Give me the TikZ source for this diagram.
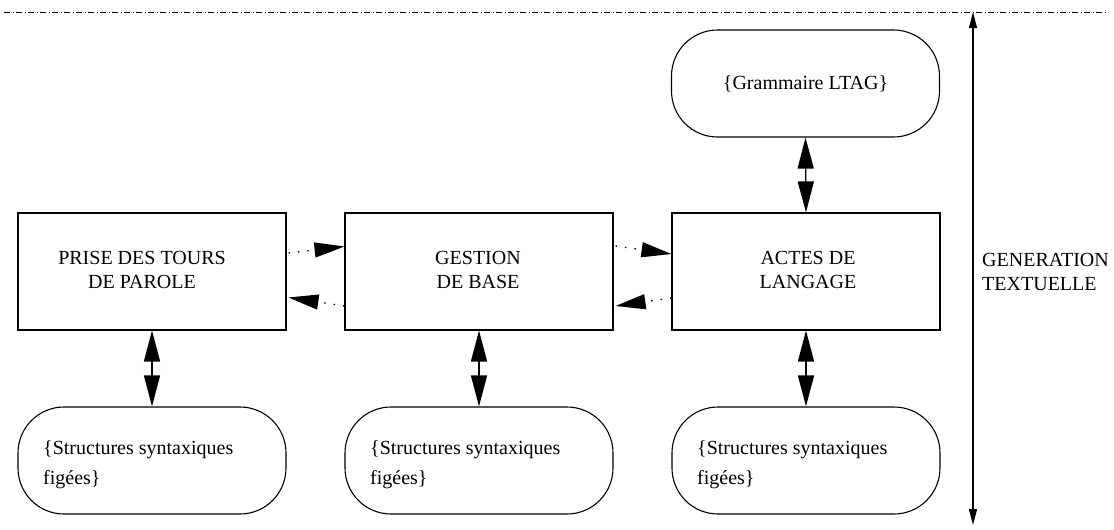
\documentclass[tikz,border=0pt]{standalone}
\usepackage{fontspec}
\setmainfont{Liberation Serif}
\newfontfamily\timesfont{Liberation Serif}
\usetikzlibrary{arrows.meta}
\begin{document}
\begin{tikzpicture}[x=1pt,y=-1pt,
  every node/.style={font=\timesfont\fontsize{20}{24}\selectfont},
  boxnode/.style={draw,line width=1.1pt,minimum width=268pt,minimum height=117pt,inner sep=0pt},
  roundnode/.style={draw,line width=1.1pt,rounded corners=46pt,minimum width=268pt,minimum height=107pt,inner sep=0pt},
  dbltip/.style={line width=1.4pt,{Triangle[length=31pt,width=16pt]}-{Triangle[length=31pt,width=16pt]}},
  dotarrow/.style={line width=1.3pt,dash pattern=on 1.5pt off 8pt,-{Triangle[length=30pt,width=15pt]}},
  lbl/.style={align=center,inner sep=0pt},
  lbll/.style={align=left,inner sep=0pt,anchor=west,font=\timesfont\fontsize{20}{30}\selectfont}
]
\useasboundingbox (0,0) rectangle (1114,530);
% boxes
\node[boxnode] (b1) at (152,271.5) {};
\node[boxnode] (b2) at (479,271.5) {};
\node[boxnode] (b3) at (806,271.5) {};
\node[lbl] (t1) at (142,270) {PRISE DES TOURS\\DE PAROLE};
\node[lbl] (t2) at (478,270) {GESTION\\DE BASE};
\node[lbl] (t3) at (808,270) {ACTES DE\\LANGAGE};
% rounded boxes
\node[roundnode] (g) at (805.5,83.5) {};
\node[lbl] (gt) at (805.5,84) {\{Grammaire LTAG\}};
\node[roundnode] (r1) at (152,460.5) {};
\node[roundnode] (r2) at (479,460.5) {};
\node[roundnode] (r3) at (806,460.5) {};
\node[lbll] (rt1) at (43,465) {\{Structures syntaxiques\\fig\'ees\}};
\node[lbll] (rt2) at (370,465) {\{Structures syntaxiques\\fig\'ees\}};
\node[lbll] (rt3) at (697,465) {\{Structures syntaxiques\\fig\'ees\}};
% vertical double arrows
\draw[dbltip] (b1.south) -- (r1.north);
\draw[dbltip] (b2.south) -- (r2.north);
\draw[dbltip] (b3.south) -- (r3.north);
\draw[dbltip] (g.south) -- (b3.north);
% dotted arrows
\draw[dotarrow] ([xshift=2pt,yshift=18.5pt]b1.east) -- ([yshift=25pt]b2.west);
\draw[dotarrow] ([yshift=-34.5pt]b2.west) -- ([xshift=2pt,yshift=-26pt]b1.east);
\draw[dotarrow] ([xshift=2pt,yshift=25.5pt]b2.east) -- ([yshift=17.5pt]b3.west);
\draw[dotarrow] ([yshift=-26.5pt]b3.west) -- ([xshift=2pt,yshift=-34.5pt]b2.east);
% top dash-dot line
\coordinate (l1) at (4,12);
\coordinate (l2) at (1108,12);
\draw[line width=0.9pt,dash pattern=on 6pt off 2.5pt on 1pt off 2.5pt] (l1) -- (l2);
% right span arrow
\coordinate (v1) at (973,12);
\coordinate (v2) at (973,525);
\draw[line width=1.2pt,{Triangle[length=16pt,width=8pt]}-{Triangle[length=16pt,width=8pt]}] (v1) -- (v2);
\node[align=left,inner sep=0pt,anchor=west] (gen) at (982,272) {GENERATION\\TEXTUELLE};
\end{tikzpicture}
\end{document}
